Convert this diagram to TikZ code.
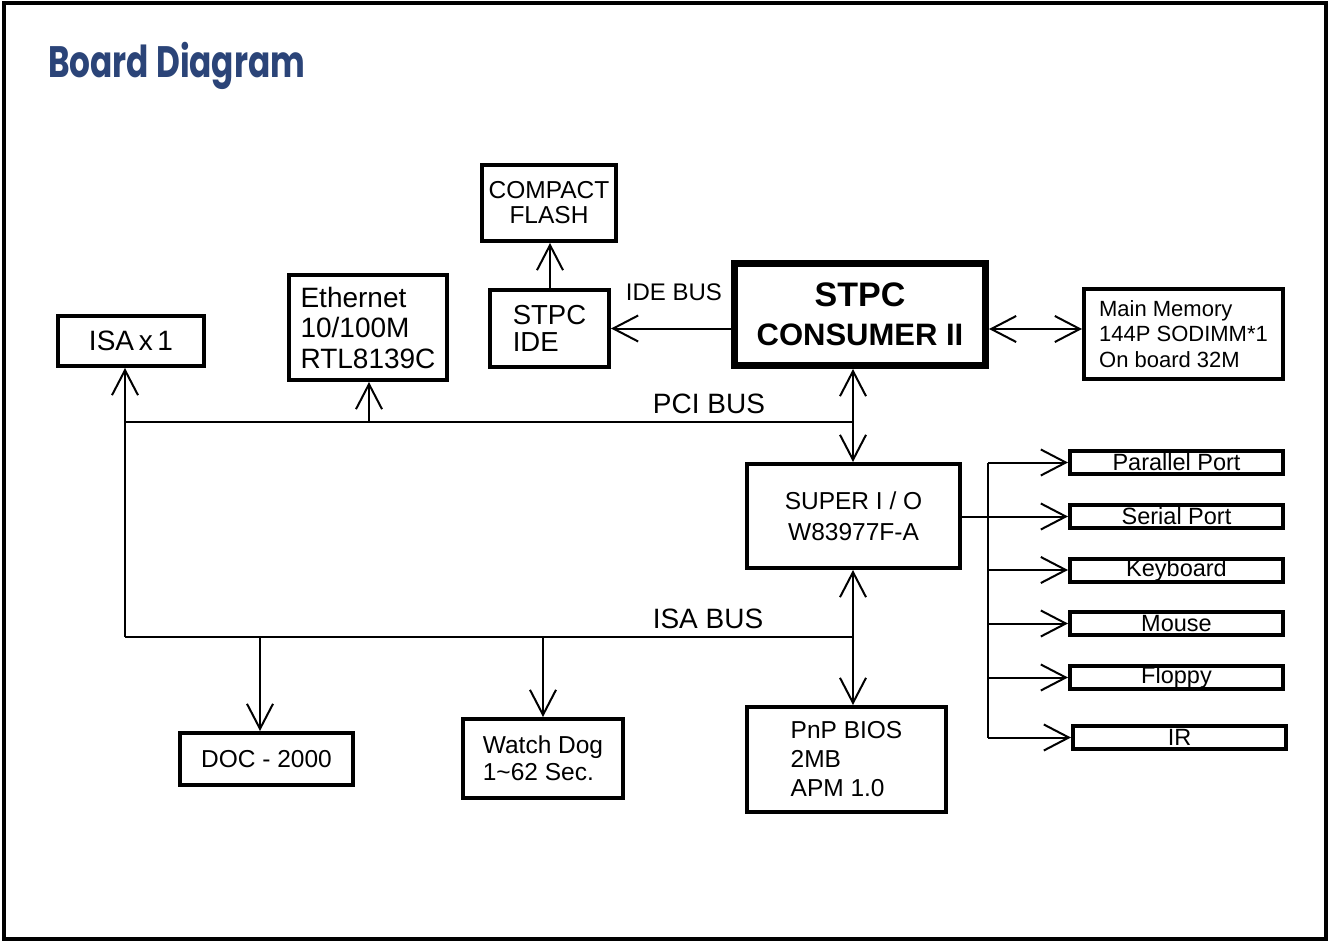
\documentclass[tikz,border=0pt]{standalone}
\usepackage{fontspec}
\setmainfont{Liberation Sans}
\newfontfamily\titlefont{Poppins}
\usetikzlibrary{arrows.meta}
\definecolor{titleblue}{HTML}{2B4478}
\begin{document}
\begin{tikzpicture}[x=1pt,y=-1pt,
  box/.style={draw,line width=4pt,inner sep=0pt,align=left},
  fbig/.style={font=\fontsize{28}{30.5}\selectfont},
  fmid/.style={font=\fontsize{24.5}{28}\selectfont},
  fsmall/.style={font=\fontsize{22}{25.5}\selectfont},
  conn/.style={line width=2pt},
  tip/.style={conn,-{Straight Barb[length=25pt,width=26pt]}},
  both/.style={conn,{Straight Barb[length=25pt,width=26pt]}-{Straight Barb[length=25pt,width=26pt]}},
  port/.style={box,minimum width=213pt,minimum height=23pt,font=\fontsize{23.5}{26}\selectfont,align=center}
]
\useasboundingbox (0,0) rectangle (1330,941);
\fill[white] (0,0) rectangle (1330,941);
\draw[line width=4pt] (4,3.5) rectangle (1325.5,938.5);

\node[anchor=base west,inner sep=0pt,text=titleblue,font=\titlefont\bfseries\fontsize{44}{48}\selectfont] (title) at (48,78) {\scalebox{0.745}[1]{Board Diagram}};

% boxes
\node[box,minimum width=134pt,minimum height=76pt,align=center,font=\fontsize{24.5}{25}\selectfont] (cf) at (549,203) {COMPACT\\FLASH};
\node[box,minimum width=119pt,minimum height=77pt,font=\fontsize{27.5}{27}\selectfont] (ide) at (549.5,328.5) {STPC\\IDE};
\node[box,line width=7pt,minimum width=251pt,minimum height=102pt,align=center,font=\bfseries\fontsize{31}{39}\selectfont] (cpu) at (860,314.5) {{\fontsize{34}{39}\selectfont STPC}\\CONSUMER II};
\node[box,minimum width=199pt,minimum height=90pt,fsmall] (mem) at (1183.5,334) {Main Memory\\144P SODIMM*1\\On board 32M};
\node[box,minimum width=146pt,minimum height=50pt,fbig] (isa) at (131,341) {ISA\,x\,1};
\node[box,minimum width=158pt,minimum height=105pt,fbig] (eth) at (368,327.5) {Ethernet\\10/100M\\RTL8139C};
\node[box,minimum width=213pt,minimum height=104pt,align=center,font=\fontsize{24.5}{31}\selectfont] (sio) at (853.5,516) {SUPER I / O\\W83977F-A};
\node[port] (par) at (1176.5,462.5) {Parallel Port};
\node[port] (ser) at (1176.5,516.5) {Serial Port};
\node[port] (kbd) at (1176.5,570) {Keyboard};
\node[port] (mou) at (1176.5,623.5) {Mouse};
\node[port] (flp) at (1176.5,677.5) {Floppy};
\node[port] (ir) at (1179.5,737.5) {IR};
\node[box,minimum width=173pt,minimum height=52pt,fmid] (doc) at (266.5,759) {DOC - 2000};
\node[box,minimum width=160pt,minimum height=79pt,font=\fontsize{24.5}{27}\selectfont] (wd) at (543,758.5) {Watch Dog\\1\char`~62 Sec.};
\node[box,minimum width=199pt,minimum height=105pt,font=\fontsize{24.5}{29}\selectfont] (bios) at (846.5,759.5) {PnP BIOS\\2MB\\APM 1.0};

% labels
\node[anchor=base,inner sep=0pt,font=\fontsize{24}{26}\selectfont] (idel) at (674,300) {IDE BUS};
\node[anchor=base,inner sep=0pt,fbig] (pcil) at (709,413) {PCI BUS};
\node[anchor=base,inner sep=0pt,fbig] (isal) at (708,628) {ISA BUS};

% bus coordinates
\coordinate (pciL) at (125,422);
\coordinate (pciR) at (853,422);
\coordinate (isaL) at (125,637);
\coordinate (isaR) at (853,637);
\coordinate (ethJ) at (369,422);
\coordinate (docJ) at (260,637);
\coordinate (wdJ) at (543,637);
\coordinate (fan) at (988,517);
\coordinate (memy) at (0,329);

% buses
\draw[conn] (pciL) -- (pciR);
\draw[conn] (isaL) -- (isaR);
\draw[conn] (isaL) -- (pciL);
\draw[tip] (pciL) -- (pciL |- isa.south);
\draw[tip] (ethJ) -- (ethJ |- eth.south);
\draw[both] (pciR |- cpu.south) -- (pciR |- sio.north);
\draw[both] (isaR |- sio.south) -- (isaR |- bios.north);
\draw[tip] (docJ) -- (docJ |- doc.north);
\draw[tip] (wdJ) -- (wdJ |- wd.north);

% IDE and flash
\draw[tip] (cpu.west |- ide.east) -- (ide.east);
\draw[tip] (550,0 |- ide.north) -- (550,0 |- cf.south);

% memory
\draw[both] (cpu.east |- memy) -- (mem.west |- memy);

% super I/O fan-out
\draw[tip] (sio.east |- ser.west) -- (ser.west);
\draw[conn] (fan |- par.west) -- (fan |- ir.west);
\draw[tip] (fan |- par.west) -- (par.west);
\draw[tip] (fan |- kbd.west) -- (kbd.west);
\draw[tip] (fan |- mou.west) -- (mou.west);
\draw[tip] (fan |- flp.west) -- (flp.west);
\draw[tip] (fan |- ir.west) -- (ir.west);
\end{tikzpicture}
\end{document}
